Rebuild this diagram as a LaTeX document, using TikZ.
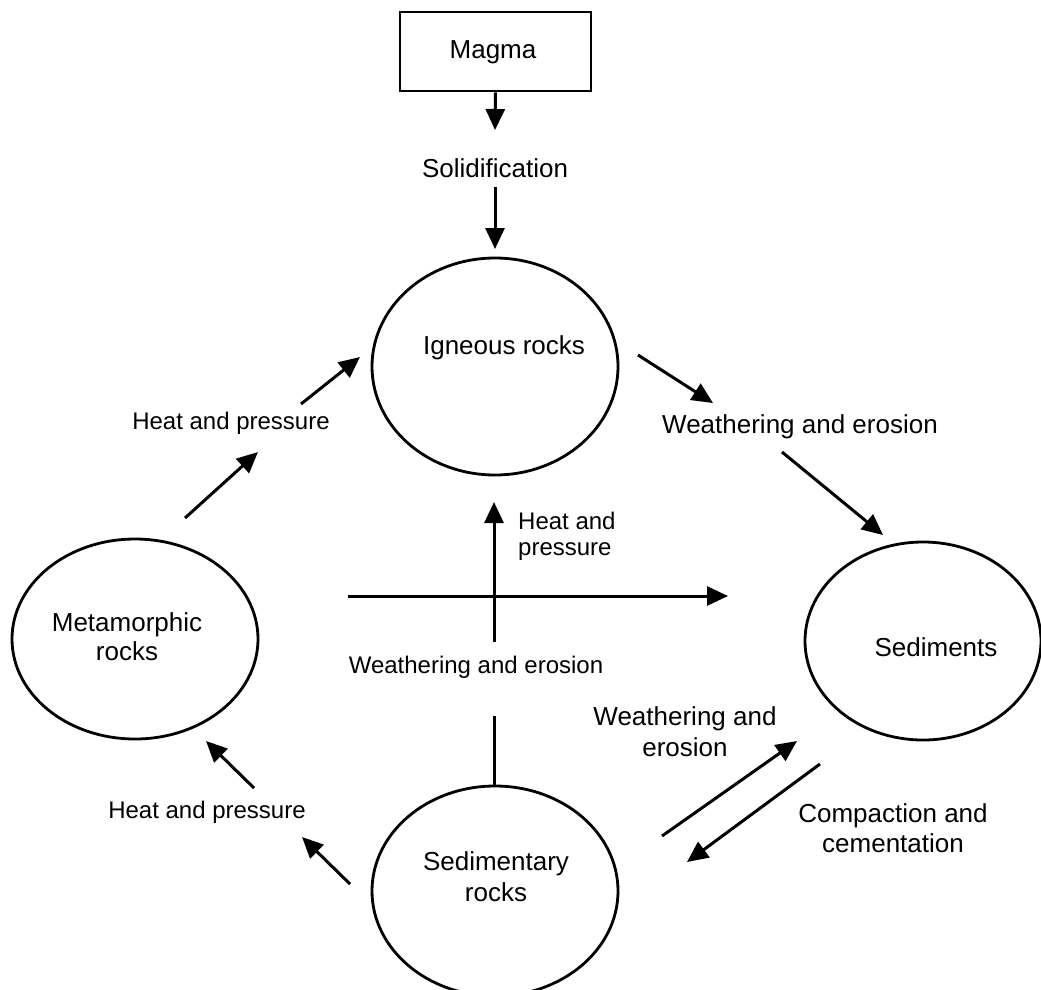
\documentclass[tikz,border=0pt]{standalone}
\usepackage{fontspec}
\setmainfont{Liberation Sans}
\usetikzlibrary{shapes.geometric,arrows.meta}
\tikzset{
  big/.style={font=\fontsize{26}{30}\selectfont, inner sep=0pt, align=center},
  small/.style={font=\fontsize{24}{26}\selectfont, inner sep=0pt, align=center},
  rock/.style={draw, ellipse, line width=2.8pt, inner sep=0pt},
  arr/.style={line width=3pt, -{Triangle[length=21pt,width=19pt]}},
  plain/.style={line width=3pt},
}
\begin{document}
\begin{tikzpicture}[x=1pt,y=-1pt]
\useasboundingbox (0,0) rectangle (1041,989);
\fill[white] (0,0) rectangle (1041,989);

% shapes
\node[draw, line width=2.8pt, minimum width=191pt, minimum height=79pt, inner sep=0pt] (magma) at (495.5,51.5) {};
\node[big] (magmat) at (493,52) {Magma};
\node[rock, minimum width=246pt, minimum height=217pt] (ign) at (495,366.5) {};
\node[rock, minimum width=246pt, minimum height=200pt] (meta) at (135,639) {};
\node[rock, minimum width=236pt, minimum height=198pt] (sedm) at (923,641) {};
\node[rock, minimum width=246pt, minimum height=210pt] (sedr) at (495,891) {};

% texts
\node[big] (solid) at (495,168) {Solidification};
\node[big] (ignt) at (504,348) {Igneous rocks};
\node[big] (metat) at (127,637) {Metamorphic\\[-1pt]rocks};
\node[big] (sedmt) at (936,647) {Sediments};
\node[big] (sedrt) at (496,877) {Sedimentary\\[1pt]rocks};
\node[big, anchor=west] (we1) at (662,427) {Weathering and erosion};
\node[small] (hp1) at (231,423) {Heat and pressure};
\node[small, anchor=west, align=left] (hp2) at (518,536) {Heat and\\pressure};
\node[small] (we2) at (476,667) {Weathering and erosion};
\node[big] (we3) at (685,732) {Weathering and\\[1pt]erosion};
\node[big] (cc) at (893,828) {Compaction and\\cementation};
\node[small] (hp3) at (207,812) {Heat and pressure};

% free ends
\coordinate (a1) at (495,130);
\coordinate (a2s) at (495,187);
\coordinate (a2e) at (495,249);
\coordinate (b1s) at (638,355);
\coordinate (b1e) at (713,403);
\coordinate (b2s) at (782,452);
\coordinate (b2e) at (883,535);
\coordinate (c1s) at (301,404);
\coordinate (c1e) at (360,357);
\coordinate (c2s) at (185,518);
\coordinate (c2e) at (258,452);
\coordinate (vs) at (494,642);
\coordinate (ve) at (494,502);
\coordinate (hs) at (348,596);
\coordinate (he) at (728,596);
\coordinate (ls) at (494,716);
\coordinate (d1s) at (662,836);
\coordinate (d1e) at (797,741);
\coordinate (d2s) at (820,764);
\coordinate (d2e) at (687,862);
\coordinate (e1s) at (254,788);
\coordinate (e1e) at (206,741);
\coordinate (e2s) at (350,884);
\coordinate (e2e) at (302,837);

% connectors
\draw[arr] (magma.south) -- (a1);
\draw[arr] (a2s) -- (a2e);
\draw[arr] (b1s) -- (b1e);
\draw[arr] (b2s) -- (b2e);
\draw[arr] (c1s) -- (c1e);
\draw[arr] (c2s) -- (c2e);
\draw[arr] (vs) -- (ve);
\draw[arr] (hs) -- (he);
\draw[plain] (ls) -- (ls |- sedr.north);
\draw[arr] (d1s) -- (d1e);
\draw[arr] (d2s) -- (d2e);
\draw[arr] (e1s) -- (e1e);
\draw[arr] (e2s) -- (e2e);
\end{tikzpicture}
\end{document}
